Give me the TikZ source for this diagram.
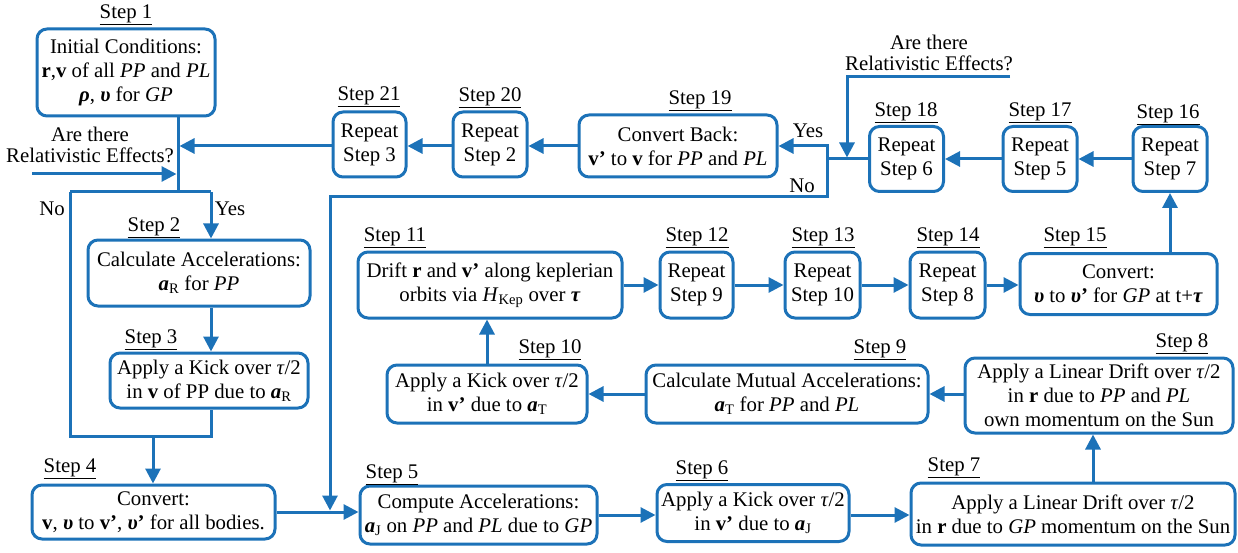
\documentclass[tikz,border=0pt]{standalone}
\usepackage{fontspec}
\setmainfont{Liberation Serif}
\usetikzlibrary{arrows.meta}
\definecolor{fblue}{RGB}{28,114,184}
\tikzset{
  stepbox/.style={draw=fblue, line width=3pt, rounded corners=10pt, align=center, inner sep=0pt, fill=white,
    font=\fontsize{20.8}{24}\selectfont},
  lbl/.style={inner sep=0pt, font=\fontsize{20.8}{24}\selectfont},
  conn/.style={draw=fblue, line width=3pt},
  arr/.style={draw=fblue, line width=3pt, -{Triangle[length=15pt,width=15pt]}},
}
\newcommand{\bv}[1]{\textbf{#1}}
\newcommand{\bi}[1]{\textbf{\textit{#1}}}
\begin{document}
\begin{tikzpicture}[x=1pt,y=-1pt]
\useasboundingbox (0,0) rectangle (1238,553);

% boxes
\node[stepbox, minimum width=178pt, minimum height=87pt] (s1) at (126,72.5) {Initial Conditions:\\ \bv{r},\bv{v} of all \textit{PP} and \textit{PL}\\ \bi{ρ}, \bi{υ} for \textit{GP}};
\node[stepbox, minimum width=222pt, minimum height=66pt] (s2) at (199,273) {Calculate Accelerations:\\ \bi{a}\textsubscript{R} for \textit{PP}};
\node[stepbox, minimum width=198pt, minimum height=55pt] (s3) at (209,380.5) {Apply a Kick over \textit{τ}/2\\ in \bv{v} of PP due to \bi{a}\textsubscript{R}};
\node[stepbox, minimum width=243pt, minimum height=54pt] (s4) at (153.5,512) {Convert:\\ \bv{v}, \bi{υ} to \bv{v’}, \bi{υ}\textbf{’} for all bodies.};
\node[stepbox, minimum width=237pt, minimum height=58pt] (s5) at (478.5,515) {Compute Accelerations:\\ \bi{a}\textsubscript{J} on \textit{PP} and \textit{PL} due to \textit{GP}};
\node[stepbox, minimum width=192pt, minimum height=57pt] (s6) at (753,513) {Apply a Kick over \textit{τ}/2\\ in \bv{v’} due to \bi{a}\textsubscript{J}};
\node[stepbox, minimum width=324pt, minimum height=62pt] (s7) at (1073,514) {Apply a Linear Drift over \textit{τ}/2\\ in \bv{r} due to \textit{GP} momentum on the Sun};
\node[stepbox, minimum width=268pt, minimum height=75pt] (s8) at (1099,395.5) {Apply a Linear Drift over \textit{τ}/2\\ in \bv{r} due to \textit{PP} and \textit{PL}\\ own momentum on the Sun};
\node[stepbox, minimum width=282pt, minimum height=58pt] (s9) at (787,394) {Calculate Mutual Accelerations:\\ \bi{a}\textsubscript{T} for \textit{PP} and \textit{PL}};
\node[stepbox, minimum width=200pt, minimum height=58pt] (s10) at (487,394) {Apply a Kick over \textit{τ}/2\\ in \bv{v’} due to \bi{a}\textsubscript{T}};
\node[stepbox, minimum width=264pt, minimum height=66pt] (s11) at (490,285) {Drift \bv{r} and \bv{v’} along keplerian\\ orbits via \textit{H}\textsubscript{Kep} over \bi{τ}};
\node[stepbox, minimum width=73pt, minimum height=66pt] (s12) at (696.5,285) {Repeat\\ Step 9};
\node[stepbox, minimum width=75pt, minimum height=66pt] (s13) at (822.5,285) {Repeat\\ Step 10};
\node[stepbox, minimum width=75pt, minimum height=66pt] (s14) at (947.5,285) {Repeat\\ Step 8};
\node[stepbox, minimum width=197pt, minimum height=61pt] (s15) at (1118.5,284) {Convert:\\ \bi{υ} to \bi{υ}\textbf{’} for \textit{GP} at t+\bi{τ}};
\node[stepbox, minimum width=74pt, minimum height=65pt] (s16) at (1170,159) {Repeat\\ Step 7};
\node[stepbox, minimum width=74pt, minimum height=65pt] (s17) at (1040,159) {Repeat\\ Step 5};
\node[stepbox, minimum width=74pt, minimum height=65pt] (s18) at (906.5,159) {Repeat\\ Step 6};
\node[stepbox, minimum width=198pt, minimum height=62pt] (s19) at (678,146) {Convert Back:\\ \bv{v’} to \bv{v} for \textit{PP} and \textit{PL}};
\node[stepbox, minimum width=74pt, minimum height=65pt] (s20) at (490,144.5) {Repeat\\ Step 2};
\node[stepbox, minimum width=73pt, minimum height=65pt] (s21) at (369.5,144.5) {Repeat\\ Step 3};

% step labels
\node[lbl] (l1) at (126,15) {\underline{Step 1}};
\node[lbl] (l2) at (154,228) {\underline{Step 2}};
\node[lbl] (l3) at (151,340) {\underline{Step 3}};
\node[lbl] (l4) at (70,469) {\underline{Step 4}};
\node[lbl] (l5) at (392,475) {\underline{Step 5}};
\node[lbl] (l6) at (702,471) {\underline{Step 6}};
\node[lbl] (l7) at (954,468) {\underline{Step 7}};
\node[lbl] (l8) at (1182,344) {\underline{Step 8}};
\node[lbl] (l9) at (880,350) {\underline{Step 9}};
\node[lbl] (l10) at (550,350) {\underline{Step 10}};
\node[lbl] (l11) at (395,238) {\underline{Step 11}};
\node[lbl] (l12) at (697,238) {\underline{Step 12}};
\node[lbl] (l13) at (823,238) {\underline{Step 13}};
\node[lbl] (l14) at (948,238) {\underline{Step 14}};
\node[lbl] (l15) at (1075,238) {\underline{Step 15}};
\node[lbl] (l16) at (1168,115) {\underline{Step 16}};
\node[lbl] (l17) at (1040,113) {\underline{Step 17}};
\node[lbl] (l18) at (906,113) {\underline{Step 18}};
\node[lbl] (l19) at (700,101) {\underline{Step 19}};
\node[lbl] (l20) at (490,98) {\underline{Step 20}};
\node[lbl] (l21) at (369,97) {\underline{Step 21}};

% other texts
\node[lbl, align=center, font=\fontsize{20.8}{21}\selectfont] (q1) at (90,145) {Are there\\ Relativistic Effects?};
\node[lbl, align=center, font=\fontsize{20.8}{21}\selectfont] (q2) at (929,53) {Are there\\ Relativistic Effects?};
\node[lbl] (no1) at (52,209) {No};
\node[lbl] (yes1) at (230,209) {Yes};
\node[lbl] (yes2) at (808,131) {Yes};
\node[lbl] (no2) at (802,186) {No};

% coordinates
\coordinate (j1) at (178,192);
\coordinate (jNo) at (70,192);
\coordinate (jYes) at (211,192);
\coordinate (m) at (153,436);
\coordinate (t21) at (179.5,146);
\coordinate (rl) at (32,174);
\coordinate (rlt) at (176.5,174);
\coordinate (x78) at (1093,0);
\coordinate (jR) at (827,159);
\coordinate (jRy) at (827,146);
\coordinate (jRn) at (827,197);
\coordinate (k5) at (330,197);
\coordinate (k5t) at (330,510.5);
\coordinate (rt) at (1010,77);
\coordinate (rt2) at (847,77);
\coordinate (rt3) at (847,157.5);

% left part
\draw[conn] (s1.south -| j1) -- (j1);
\draw[arr] (s21.west |- t21) -- (t21);
\draw[arr] (rl) -- (rlt);
\draw[conn] (jNo) -- (jYes);
\draw[arr] (jYes) -- (jYes |- s2.north);
\draw[arr] (s2.south -| jYes) -- (s3.north -| jYes);
\draw[conn] (jNo) -- (jNo |- m) -- (m -| jYes) -- (s3.south -| jYes);
\draw[arr] (m) -- (s4.north -| m);

% bottom row
\draw[arr] (s4.east) -- (s5.west |- s4.east);
\draw[arr] (s5.east) -- (s6.west |- s5.east);
\draw[arr] (s6.east |- s5.east) -- (s7.west |- s5.east);
\draw[arr] (s7.north -| x78) -- (s8.south -| x78);
\draw[arr] (s8.west |- s9.east) -- (s9.east);
\draw[arr] (s9.west) -- (s10.east |- s9.west);
\draw[arr] (s10.north) -- (s11.south -| s10.north);

% middle row
\draw[arr] (s11.east) -- (s12.west);
\draw[arr] (s12.east) -- (s13.west);
\draw[arr] (s13.east) -- (s14.west);
\draw[arr] (s14.east) -- (s15.west |- s14.east);
\draw[arr] (s15.north -| s16.south) -- (s16.south);

% top row
\draw[arr] (s16.west) -- (s17.east);
\draw[arr] (s17.west) -- (s18.east);
\draw[conn] (s18.west) -- (jR);
\draw[arr] (jR) -- (jRy) -- (s19.east |- jRy);
\draw[arr] (jR) -- (jRn) -- (k5) -- (k5t);
\draw[arr] (rt) -- (rt2) -- (rt3);
\draw[arr] (s19.west) -- (s20.east |- s19.west);
\draw[arr] (s20.west |- s19.west) -- (s21.east |- s19.west);
\end{tikzpicture}
\end{document}
